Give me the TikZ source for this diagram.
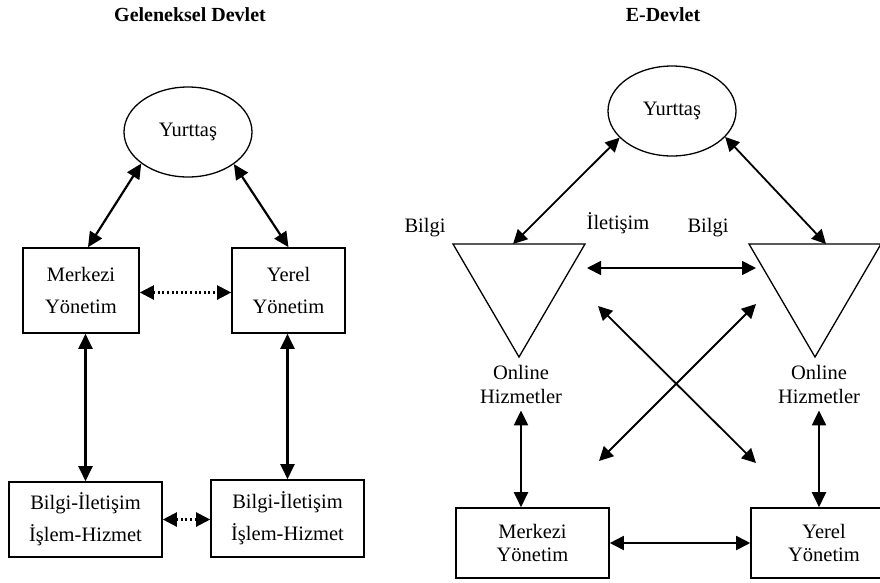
\documentclass[tikz,border=0pt]{standalone}
\usepackage{fontspec}
\setmainfont{Liberation Serif}
\usetikzlibrary{arrows.meta,shapes.geometric}
\begin{document}
\begin{tikzpicture}[x=1pt,y=-1pt,
  txt/.style={font=\fontsize{20.5}{24}\selectfont, align=center, inner sep=0pt},
  ttl/.style={font=\fontsize{20}{24}\selectfont\bfseries, inner sep=0pt},
  boxL/.style={draw, line width=1.6pt, inner sep=0pt, align=center, font=\fontsize{20.5}{32}\selectfont},
  boxR/.style={draw, line width=1.6pt, inner sep=0pt, align=center, font=\fontsize{20.5}{23}\selectfont},
  ell/.style={draw, ellipse, line width=1.3pt, minimum width=128pt, minimum height=90pt, inner sep=0pt, font=\fontsize{20.5}{24}\selectfont},
  tri/.style={draw, line width=1.3pt, line join=miter},
  arrL/.style={line width=2.2pt, {Triangle[length=15pt,width=14pt]}-{Triangle[length=15pt,width=14pt]}},
  arrR/.style={line width=1.8pt, {Triangle[length=14pt,width=14pt]}-{Triangle[length=14pt,width=14pt]}},
  dotarr/.style={line width=2.2pt, dash pattern=on 2pt off 2.6pt, {Triangle[length=14pt,width=14pt]}-{Triangle[length=14pt,width=14pt]}}
]
\clip (0,0) rectangle (880,582);
\fill[white] (0,0) rectangle (880,582);

% ---------- Geleneksel Devlet ----------
\node[ttl] (t1) at (190,15) {Geleneksel Devlet};
\node[ell] (yl) at (188,132) {Yurttaş};
\node[boxL, minimum width=116pt, minimum height=85pt] (mk) at (81,290.5) {Merkezi\\Yönetim};
\node[boxL, minimum width=113pt, minimum height=85pt] (yr) at (288.5,290.5) {Yerel\\Yönetim};
\node[boxL, minimum width=153pt, minimum height=75pt] (bl) at (85.5,519.5) {Bilgi-İletişim\\İşlem-Hizmet};
\node[boxL, minimum width=153pt, minimum height=77pt] (br) at (287.5,518.5) {Bilgi-İletişim\\İşlem-Hizmet};

\draw[arrL] (yl.214) -- ([xshift=7pt]mk.north);
\draw[arrL] (yl.325) -- (yr.north);
\draw[dotarr] ([yshift=-2pt]mk.east) -- ([yshift=-2pt]yr.west);
\draw[arrL] (bl.north |- mk.south) -- (bl.north);
\draw[arrL] (br.north |- yr.south) -- (br.north);
\draw[dotarr] (bl.east) -- (bl.east -| br.west);

% ---------- E-Devlet ----------
\node[ttl] (t2) at (663,15) {E-Devlet};
\node[ell] (yc) at (672,111) {Yurttaş};

\draw[tri] (453,244) -- (585,244) -- (519,357) -- cycle;
\draw[tri] (749,244) -- (881,244) -- (815,357) -- cycle;
\coordinate (tla) at (513,244);
\coordinate (tra) at (826,244);
\coordinate (h1) at (587,268);
\coordinate (h2) at (756,268);
\coordinate (c1) at (598,306);
\coordinate (c2) at (756,463);
\coordinate (c3) at (756,304);
\coordinate (c4) at (599,461);

\node[txt] (b1) at (425,228) {Bilgi};
\node[txt] (il) at (618,223) {İletişim};
\node[txt] (b2) at (708,228) {Bilgi};
\node[txt] (oh1) at (521,384) {Online\\Hizmetler};
\node[txt] (oh2) at (819,384) {Online\\Hizmetler};

\node[boxR, minimum width=153pt, minimum height=70pt] (mb) at (532.5,543) {Merkezi\\Yönetim};
\node[boxR, minimum width=146pt, minimum height=70pt] (yb) at (824,543) {Yerel\\Yönetim};

\draw[arrR] (yc.207) -- (tla);
\draw[arrR] (yc.334) -- (tra);
\draw[arrR] (h1) -- (h2);
\draw[arrR] (c1) -- (c2);
\draw[arrR] (c3) -- (c4);
\draw[arrL] ([yshift=-7pt]oh1.south) -- (mb.north -| oh1.south);
\draw[arrL] ([yshift=-7pt]oh2.south) -- (yb.north -| oh2.south);
\draw[arrR] (mb.east) -- (yb.west);
\end{tikzpicture}
\end{document}
